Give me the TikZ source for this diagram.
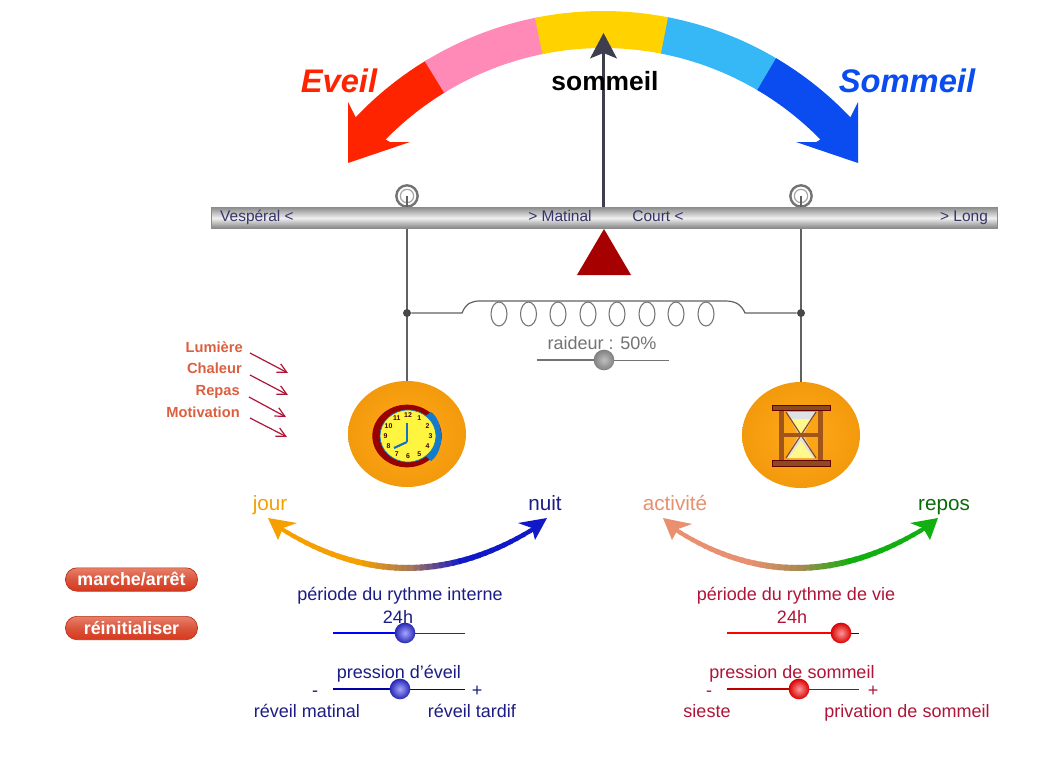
\documentclass[tikz,border=0pt]{standalone}
\usepackage{fontspec}
\setmainfont{Liberation Sans}
\usetikzlibrary{shapes.geometric,arrows.meta}
\definecolor{cnavy}{HTML}{1C1C86}
\definecolor{ccrim}{HTML}{B01438}
\definecolor{cbar}{HTML}{35356B}
\definecolor{corange}{HTML}{F39A0C}
\definecolor{cbrown}{HTML}{8A4B1E}
\definecolor{cneedle}{HTML}{3E3E4E}
\definecolor{ccue}{HTML}{DC6040}
\definecolor{gOr}{HTML}{F5A000}
\definecolor{gMid}{HTML}{A87858}
\definecolor{gBl}{HTML}{1018C8}
\definecolor{gSal}{HTML}{E89070}
\definecolor{gMid2}{HTML}{A88A50}
\definecolor{gGr}{HTML}{10B010}
\definecolor{bRed}{HTML}{FF2400}
\definecolor{bPink}{HTML}{FF8AB8}
\definecolor{bYel}{HTML}{FFD200}
\definecolor{bCy}{HTML}{35B8F5}
\definecolor{bBl}{HTML}{0A4CF0}
\definecolor{btnTop}{HTML}{E8806A}
\definecolor{btnMid}{HTML}{D9553C}
\definecolor{btnBot}{HTML}{D8381C}
\newcommand\bandseg[3]{\fill[#1] plot[domain=#2:#3,samples=24] ({603+341*cos(\x)},{352-341*sin(\x)}) -- plot[domain=#3:#2,samples=24] ({603+304*cos(\x)},{352-304*sin(\x)}) -- cycle;}
\newcommand\gradcurve[9]{%
  \foreach \i in {0,...,39}{%
    \pgfmathsetmacro\ta{\i/40}%
    \pgfmathsetmacro\tb{min(1,(\i+1.4)/40)}%
    \pgfmathsetmacro\xa{(1-\ta)^2*#1+2*\ta*(1-\ta)*#3+\ta*\ta*#5}%
    \pgfmathsetmacro\ya{(1-\ta)^2*#2+2*\ta*(1-\ta)*#4+\ta*\ta*#6}%
    \pgfmathsetmacro\xb{(1-\tb)^2*#1+2*\tb*(1-\tb)*#3+\tb*\tb*#5}%
    \pgfmathsetmacro\yb{(1-\tb)^2*#2+2*\tb*(1-\tb)*#4+\tb*\tb*#6}%
    \pgfmathsetmacro\pa{\ta<0.5?min(100,max(0,(\ta-0.3)*500)):min(100,(\ta-0.5)*500)}%
    \pgfmathsetmacro\lw{3+1.5*sin(180*\ta)}%
    \pgfmathtruncatemacro\lowhalf{\ta<0.5?1:0}%
    \ifnum\lowhalf=1 \colorlet{segc}{#8!\pa!#7}\else\colorlet{segc}{#9!\pa!#8}\fi
    \draw[segc,line width=\lw pt] (\xa,\ya) -- (\xb,\yb);
  }}
\tikzset{
  x=0.75pt,y=-0.75pt,
  lab/.style={inner sep=0pt,anchor=base,font=\fontsize{13.5}{15}\selectfont},
  endlab/.style={inner sep=0pt,anchor=base,font=\fontsize{15.5}{17}\selectfont},
  barlab/.style={inner sep=0pt,anchor=base,text=cbar,font=\fontsize{11.6}{13}\selectfont},
  cue/.style={inner sep=0pt,anchor=base east,text=ccue,font=\bfseries\fontsize{11}{12}\selectfont},
  cuearrow/.style={draw=ccrim,line width=0.9pt,-{Straight Barb[length=7pt,width=7pt]}},
  pivot/.style={circle,draw=black!55,line width=1.8pt,fill=white,minimum size=16pt,inner sep=0pt},
  disc/.style={ellipse,minimum width=88.5pt,minimum height=79.5pt,inner sep=0pt,inner color=orange!75!yellow!90!white,outer color=corange},
  knobb/.style 2 args={circle,minimum size=15.5pt,inner sep=0pt,inner color=#1,outer color=#2},
  btn/.style={rectangle,rounded corners=8.5pt,draw=btnBot!85!black,line width=0.5pt,minimum width=99pt,minimum height=17.5pt,inner sep=0pt,text=white,top color=btnTop,bottom color=btnBot,middle color=btnMid,font=\bfseries\fontsize{13.4}{15}\selectfont},
  wire/.style={draw=black!62,line width=1.3pt},
  junction/.style={circle,fill=black!72,minimum size=6pt,inner sep=0pt},
}
\begin{document}
\begin{tikzpicture}
\useasboundingbox (0,0) rectangle (1053,778);
\fill[white] (0,0) rectangle (1053,778);

% big arc
\bandseg{bRed}{121}{138}
\bandseg{bPink}{101}{121.5}
\bandseg{bYel}{78.5}{101.5}
\bandseg{bCy}{59}{79}
\bandseg{bBl}{42}{59.5}
\fill[bRed] (357,120) -- (348,102) -- (348,163) -- (410,142) -- (390,142) -- (388,141) -- cycle;
\fill[bBl] (849,120) -- (858,102) -- (858,163) -- (796,142) -- (816,142) -- (818,141) -- cycle;
\node[inner sep=0pt,anchor=base,text=bRed,font=\bfseries\itshape\fontsize{24.5}{28}\selectfont] (eveil) at (339,92) {Eveil};
\node[inner sep=0pt,anchor=base,text=bBl,font=\bfseries\itshape\fontsize{24.5}{28}\selectfont] (sommeilR) at (907,92) {Sommeil};

% bar and pivots
\node[pivot] (pivL) at (407,196) {};
\node[pivot] (pivR) at (801,196) {};
\draw[black!35,line width=0.9pt] (pivL) circle (5pt);
\draw[black!35,line width=0.9pt] (pivR) circle (5pt);

\node[disc] (clockDisc) at (407,434) {};
\node[disc] (glassDisc) at (801,435) {};
\coordinate (junL) at (407,313);
\coordinate (junR) at (801,313);
\draw[wire] (pivL.center) -- (clockDisc.north);
\draw[wire] (pivR.center) -- (glassDisc.north);

\coordinate (needleFoot) at (603.5,207);
\coordinate (needleTip) at (603.5,33);
\draw[draw=cneedle,line width=2pt,-{Stealth[length=19pt,width=20pt,inset=4pt]}] (needleFoot) -- (needleTip);
\node[inner sep=0pt,anchor=base,font=\bfseries\fontsize{19.8}{22}\selectfont] (sommeilC) at (605,90) {sommeil};

\node[rectangle,minimum width=589.5pt,minimum height=16pt,inner sep=0pt,draw=black!45,line width=0.5pt,top color=black!45,bottom color=black!50,middle color=black!6] (bar) at (604.5,218) {};
\node[barlab] (vesp) at (257,221) {Vespéral <};
\node[barlab] (mat) at (560,221) {> Matinal};
\node[barlab] (court) at (658,221) {Court <};
\node[barlab] (long) at (964,221) {> Long};
\fill[red!65!black] (604,229) -- (631,275) -- (577,275) -- cycle;

% spring
\node[junction] (jl) at (junL) {};
\node[junction] (jr) at (junR) {};
\draw[draw=black!62,line width=0.9pt] (jl) -- (462,313) .. controls (466,303) and (472,301) .. (480,301) -- (725,301) .. controls (735,301) and (741,304) .. (745,313) -- (jr);
\foreach \cx in {499,528.5,558,588,617,647,676,706}{
  \draw[black!55,line width=0.8pt] (\cx,314) ellipse [x radius=6pt,y radius=9pt];
}
\node[lab,text=black!55] (raid) at (602,349) {raideur : 50\%};
\coordinate (raidK0) at (604,360);
\coordinate (raidA) at (537,360);
\coordinate (raidB) at (669,360);
\draw[black!55,line width=1.3pt] (raidA) -- (raidK0);
\draw[black!55,line width=0.7pt] (raidK0) -- (raidB);
\node[knobb={black!25}{black!50}] (raidK) at (raidK0) {};

% cues
\node[cue] (c1) at (243,352) {Lumière};
\node[cue] (c2) at (242,373) {Chaleur};
\node[cue] (c3) at (240,395) {Repas};
\node[cue] (c4) at (240,417) {Motivation};
\coordinate (a1) at (288,373);
\coordinate (a2) at (288,395);
\coordinate (a3) at (286,417);
\coordinate (a4) at (287,437);
\coordinate (b1) at (250,353);
\coordinate (b2) at (250,375);
\coordinate (b3) at (249,397);
\coordinate (b4) at (250,418);
\foreach \k in {1,2,3,4}{\draw[cuearrow] (b\k) -- (a\k);}

% clock
\fill[red!60!black] (407,436) ellipse [x radius=26pt,y radius=23.5pt];
\fill[cyan!60!blue] (431,412) .. controls (443,420) and (446,450) .. (431,461) -- (420,450) -- (420,420) -- cycle;
\fill[yellow!75!white,draw=cyan!60!blue,line width=0.5pt] (408,436) ellipse [x radius=21pt,y radius=19.5pt];
\foreach \n/\ang in {12/90,1/60,2/30,3/0,4/-30,5/-60,6/-90,7/-120,8/-150,9/180,10/150,11/120}{
  \node[inner sep=0pt,text=black!75!red,font=\bfseries\fontsize{5.2}{6}\selectfont] at ({408+22.5*cos(\ang)},{436-20.5*sin(\ang)}) {\n};
}
\draw[cyan!50!blue,line width=1.6pt] (407,442) -- (407,423);
\draw[cyan!50!blue,line width=1.6pt] (407,442) -- (394,448);

% hourglass
\fill[cyan!15!black!15] (786,412) -- (816,412) -- (803,435) -- (816,458) -- (786,458) -- (799,435) -- cycle;
\fill[yellow!45] (790,419) -- (812,419) -- (801,434) -- cycle;
\fill[yellow!45] (801,441) -- (813,458) -- (789,458) -- cycle;
\draw[cbrown,line width=0.9pt] (786,412) -- (816,458) (816,412) -- (786,458);
\fill[cbrown!80!orange] (779,410) rectangle (784,461);
\fill[cbrown!80!orange] (818,410) rectangle (823,461);
\fill[cbrown!80!orange] (780,433) rectangle (822,437);
\fill[cbrown,draw=black!60!red,line width=0.4pt] (772,405) rectangle (830,410);
\fill[cbrown,draw=black!60!red,line width=0.4pt] (772,460) rectangle (830,466);

% gradient arrows
\gradcurve{280}{528}{407}{608}{535}{528}{gOr}{gMid}{gBl}
\fill[gOr] (268,518) -- (297,523) -- (283,528) -- (278,540) -- cycle;
\fill[gBl] (547,518) -- (518,523) -- (532,528) -- (535,540) -- cycle;
\gradcurve{673}{528}{795}{608}{925}{528}{gSal}{gMid2}{gGr}
\fill[gSal] (663,518) -- (692,524) -- (678,529) -- (672,540) -- cycle;
\fill[gGr] (938,518) -- (910,523) -- (923,528) -- (930,540) -- cycle;
\node[endlab,text=gOr] (jour) at (270,510) {jour};
\node[endlab,text=cnavy] (nuit) at (545,510) {nuit};
\node[endlab,text=gSal] (activ) at (675,510) {activité};
\node[endlab,text=gGr!60!black] (repos) at (944,510) {repos};

% buttons
\node[btn] (marche) at (131.5,579.5) {marche/arrêt};
\node[btn] (reinit) at (131.5,628) {réinitialiser};

% left sliders
\node[lab,text=cnavy] (perI) at (400,600) {période du rythme interne};
\node[lab,text=cnavy] (h1) at (398,623) {24h};
\coordinate (s1a) at (333,633);
\coordinate (s1k) at (405,633);
\coordinate (s1b) at (465,633);
\coordinate (s2a) at (333,689);
\coordinate (s2k) at (400,689);
\coordinate (s2b) at (465,689);
\draw[blue,line width=1.4pt] (s1a) -- (s1k);
\draw[black!80,line width=0.7pt] (s1k) -- (s1b);
\node[knobb={blue!35!white}{blue!65!black!85!white}] (k1) at (s1k) {};
\node[lab,text=cnavy] (presE) at (399,678) {pression d'éveil};
\draw[blue!65!black,line width=1.6pt] (s2a) -- (s2k);
\draw[blue!65!black,line width=0.7pt] (s2k) -- (s2b);
\node[knobb={blue!35!white}{blue!65!black!85!white}] (k2) at (s2k) {};
\node[lab,text=cnavy] (mL) at (315,696) {-};
\node[lab,text=cnavy] (pL) at (477,696) {+};
\node[lab,text=cnavy] (rm) at (307,717) {réveil matinal};
\node[lab,text=cnavy] (rt) at (472,717) {réveil tardif};

% right sliders
\node[lab,text=ccrim] (perV) at (796,600) {période du rythme de vie};
\node[lab,text=ccrim] (h2) at (792,623) {24h};
\coordinate (s3a) at (727,633);
\coordinate (s3k) at (841,633);
\coordinate (s3b) at (859,633);
\coordinate (s4a) at (727,689);
\coordinate (s4k) at (799,689);
\coordinate (s4b) at (859,689);
\draw[red,line width=1.4pt] (s3a) -- (s3k);
\draw[black!70!red,line width=0.7pt] (s3k) -- (s3b);
\node[knobb={red!40!white}{red!85!black}] (k3) at (s3k) {};
\node[lab,text=ccrim] (presS) at (792,678) {pression de sommeil};
\draw[red!75!black,line width=1.6pt] (s4a) -- (s4k);
\draw[red!75!black,line width=0.7pt] (s4k) -- (s4b);
\node[knobb={red!40!white}{red!85!black}] (k4) at (s4k) {};
\node[lab,text=ccrim] (mR) at (709,696) {-};
\node[lab,text=ccrim] (pR) at (873,696) {+};
\node[lab,text=ccrim] (sies) at (707,717) {sieste};
\node[lab,text=ccrim] (priv) at (907,717) {privation de sommeil};
\end{tikzpicture}
\end{document}
